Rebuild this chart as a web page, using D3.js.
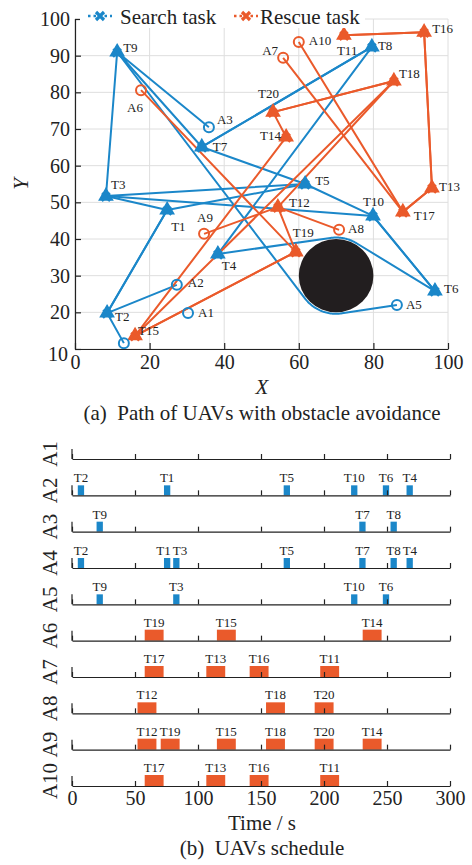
<!DOCTYPE html>
<html><head><meta charset="utf-8">
<script src="https://cdn.jsdelivr.net/npm/d3@7"></script>
<style>
body{margin:0;background:#fff}
svg{display:block;font-family:"Liberation Serif","Times New Roman",serif}
</style>
</head><body>
<svg id="c" width="472" height="865"></svg>
<script>
// ---------------- DATA ----------------
const uavNames = ["A1","A2","A3","A4","A5","A6","A7","A8","A9","A10"];
const uavX = [30.3, 27.3, 35.9, 13.1, 86.3, 17.7, 55.8, 70.8, 34.6, 60.0];
const uavY = [19.8, 27.5, 70.5, 11.6, 22.0, 80.6, 89.4, 42.5, 41.4, 93.7];
const uavType = ["search","search","search","search","search","rescue","rescue","rescue","rescue","rescue"];

const taskNames = ["T1","T2","T3","T4","T5","T6","T7","T8","T9","T10",
                   "T11","T12","T13","T14","T15","T16","T17","T18","T19","T20"];
const taskX = [24.7, 8.6, 8.3, 38.3, 61.7, 96.5, 34.0, 79.6, 11.3, 79.9,
               72.1, 54.4, 95.7, 56.6, 16.1, 93.6, 87.9, 85.5, 59.2, 53.1];
const taskY = [47.9, 19.8, 51.7, 35.9, 55.0, 25.8, 65.1, 92.4, 91.0, 46.3,
               95.6, 48.7, 53.9, 67.8, 13.6, 96.4, 47.4, 83.1, 36.5, 74.6];

const obstacleX = 70, obstacleY = 30, obstacleR = 10;
// segments flown around the obstacle: [uav, from, to, direction]
const detours = [["A2","T6","T4","ccw"], ["A5","A5","T9","cw"]];

// schedule: task order and start times (s) per UAV
const schedTasks = [
  [],
  ["T2","T1","T5","T10","T6","T4"],
  ["T9","T7","T8"],
  ["T2","T1","T3","T5","T7","T8","T4"],
  ["T9","T3","T10","T6"],
  ["T19","T15","T14"],
  ["T17","T13","T16","T11"],
  ["T12","T18","T20"],
  ["T12","T19","T15","T18","T20","T14"],
  ["T17","T13","T16","T11"]
];
const schedStart = [
  [],
  [4.6, 73, 168, 221.5, 246.7, 265.5],
  [19.5, 228, 252.8],
  [4.6, 73, 80.3, 168, 228, 252.8, 265.5],
  [19.5, 80.3, 221.5, 246.7],
  [57.7, 115, 230.7],
  [57.7, 106.6, 141, 197],
  [52, 154, 192.6],
  [52, 70.4, 115, 154, 192.6, 230.7],
  [57.7, 106.6, 141, 197]
];
const searchDuration = 5, rescueDuration = 15;

const xTicksA = [0,20,40,60,80,100];
const yTicksA = [10,20,30,40,50,60,70,80,90,100];
const tTicks = [0,50,100,150,200,250,300];
const legendLabels = ["Search task","Rescue task"];

// ---------------- LAYOUT ----------------
const blue = "#1b87c9", orange = "#ea5a2b";
const colorOf = t => t === "search" ? blue : orange;
const labelOffset = {
  T9:[6,0], A6:[-14,22], A3:[8,-3], T7:[11,4], T3:[5,-7], T1:[4,21], A9:[-7,-12],
  T4:[4,16], A2:[11,2], A1:[10,4], T2:[8,8], T15:[3,-1], T5:[10,1], T12:[11,0],
  T19:[-3,-15], A8:[9,3], T10:[-10,-10], T17:[11,8], T13:[7,3], T6:[9,2], A5:[9,4],
  T16:[8,1], T11:[-7,20], T8:[6,3], A10:[10,3], A7:[-21,-3], T18:[5,-3],
  T20:[-15,-14], T14:[-26,3]
};

const svg = d3.select("#c");
const x = d3.scaleLinear().domain([0,100]).range([75,448]);
const y = d3.scaleLinear().domain([10,100]).range([349,19]);

// grid
const g = svg.append("g");
g.selectAll(".gx").data(xTicksA).join("line")
  .attr("x1", d=>x(d)).attr("x2", d=>x(d)).attr("y1", y(10)).attr("y2", y(100))
  .attr("stroke","#dedede").attr("stroke-width",1);
g.selectAll(".gy").data(yTicksA).join("line")
  .attr("y1", d=>y(d)).attr("y2", d=>y(d)).attr("x1", x(0)).attr("x2", x(100))
  .attr("stroke","#dedede").attr("stroke-width",1);

// obstacle
g.append("ellipse").attr("cx", x(obstacleX)).attr("cy", y(obstacleY))
  .attr("rx", x(obstacleX+obstacleR)-x(obstacleX)).attr("ry", y(obstacleY)-y(obstacleY+obstacleR))
  .attr("fill","#221e1f");

// paths
const taskPos = {};
taskNames.forEach((n,i)=> taskPos[n] = [taskX[i], taskY[i]]);
const uavPos = {};
uavNames.forEach((n,i)=> uavPos[n] = [uavX[i], uavY[i]]);
const posOf = n => taskPos[n] || uavPos[n];

function detourPts(P, Q, dir) {
  const C = [obstacleX, obstacleY], R = obstacleR*1.04;
  const th = p => Math.atan2(p[1]-C[1], p[0]-C[0]);
  const dist = p => Math.hypot(p[0]-C[0], p[1]-C[1]);
  const aP = Math.acos(R/dist(P)), aQ = Math.acos(R/dist(Q));
  const phiP = th(P) + dir*aP, phiQ = th(Q) - dir*aQ;
  let sweep = (phiQ - phiP)*dir;
  while (sweep < 0) sweep += 2*Math.PI;
  while (sweep >= 2*Math.PI) sweep -= 2*Math.PI;
  const pts = [];
  const n = 40;
  for (let k=0;k<=n;k++){
    const a = phiP + dir*sweep*k/n;
    pts.push([C[0]+R*Math.cos(a), C[1]+R*Math.sin(a)]);
  }
  return pts;
}

const line = d3.line().x(d=>x(d[0])).y(d=>y(d[1]));
uavNames.forEach((u,i)=>{
  const seq = [u].concat(schedTasks[i]);
  if (seq.length < 2) return;
  let pts = [posOf(seq[0])];
  for (let k=1;k<seq.length;k++){
    const a = seq[k-1], b = seq[k];
    const dt = detours.find(d=>d[0]===u && d[1]===a && d[2]===b);
    if (dt) pts = pts.concat(detourPts(posOf(a), posOf(b), dt[3]==="ccw"?1:-1));
    pts.push(posOf(b));
  }
  g.append("path").attr("d", line(pts)).attr("fill","none")
    .attr("stroke", colorOf(uavType[i])).attr("stroke-width",2).attr("stroke-linejoin","round");
});

// task markers
const tri = d3.symbol().type(d3.symbolTriangle).size(75)();
taskNames.forEach((n,i)=>{
  const c = i < 10 ? blue : orange;
  const mg = g.append("g").attr("transform",`translate(${x(taskX[i])},${y(taskY[i])})`);
  mg.append("path").attr("d", tri).attr("fill", c).attr("stroke", c).attr("stroke-width",1.5);
  mg.append("path").attr("d","M-4,-3L4,5M-4,5L4,-3").attr("stroke",c).attr("stroke-width",2.2);
});
// uav markers
uavNames.forEach((n,i)=>{
  g.append("circle").attr("cx", x(uavX[i])).attr("cy", y(uavY[i])).attr("r",5)
    .attr("fill","none").attr("stroke", colorOf(uavType[i])).attr("stroke-width",2);
});
// labels
const lab = g.append("g").attr("font-size",13).attr("fill","#222");
Object.keys(labelOffset).forEach(n=>{
  const p = posOf(n), o = labelOffset[n];
  lab.append("text").attr("x", x(p[0])+o[0]).attr("y", y(p[1])+o[1]).text(n);
});

// axes
const ax = svg.append("g").attr("transform",`translate(${x(0)},0)`)
  .call(d3.axisLeft(y).tickValues(yTicksA).tickSizeInner(-6).tickSizeOuter(-6).tickPadding(5));
const bx = svg.append("g").attr("transform",`translate(0,${y(10)})`)
  .call(d3.axisBottom(x).tickValues(xTicksA).tickSizeInner(-6).tickSizeOuter(0).tickPadding(6));
[ax,bx].forEach(a=>{
  a.selectAll("path,line").attr("stroke","#222").attr("stroke-width",1.2);
  a.selectAll("text").attr("font-size",20).attr("fill","#222").attr("font-family","Liberation Serif");
});
ax.selectAll(".tick").filter(d=>d===10).select("text").attr("dy","0.55em").attr("x",-7);

// legend
const lg = svg.append("g");
lg.append("rect").attr("x",80).attr("y",2).attr("width",285).attr("height",26).attr("fill","#fff");
[[100, blue, legendLabels[0], 120],[246, orange, legendLabels[1], 260]].forEach(([mx,c,t,tx])=>{
  lg.append("line").attr("x1",mx-12).attr("x2",mx+12).attr("y1",16).attr("y2",16)
    .attr("stroke",c).attr("stroke-width",2.5).attr("stroke-dasharray","2.5,3");
  lg.append("path").attr("d",`M${mx-4},${12}L${mx+4},${20}M${mx-4},${20}L${mx+4},${12}`)
    .attr("stroke",c).attr("stroke-width",3.2);
  lg.append("text").attr("x",tx).attr("y",24).attr("font-size",21).attr("fill","#222").text(t);
});

// axis titles & caption (a)
svg.append("text").attr("x",262).attr("y",394).attr("text-anchor","middle")
  .attr("font-size",21).attr("font-style","italic").attr("fill","#222").text("X");
svg.append("text").attr("transform","translate(28,184) rotate(-90)").attr("text-anchor","middle")
  .attr("font-size",21).attr("font-style","italic").attr("fill","#222").text("Y");
svg.append("text").attr("x",262).attr("y",420).attr("text-anchor","middle")
  .attr("font-size",21).attr("fill","#222").attr("xml:space","preserve").text("(a)  Path of UAVs with obstacle avoidance");

// ---------------- SCHEDULE ----------------
const t = d3.scaleLinear().domain([0,300]).range([72,450]);
const row = d3.scalePoint().domain(uavNames).range([459,786]);
const sg = svg.append("g");
const labW = s => 13*(0.611 + 0.5*(s.length-1));
uavNames.forEach((u,i)=>{
  const yy = row(u);
  const c = colorOf(uavType[i]);
  const dur = uavType[i]==="search" ? searchDuration : rescueDuration;
  const h = uavType[i]==="search" ? 10 : 11;
  sg.selectAll(null).data(schedStart[i]).join("rect")
    .attr("x", d=>t(d)).attr("width", d=>t(d+dur)-t(d))
    .attr("y", yy-h).attr("height", h).attr("fill", c);
  // label centres, pushed apart when they would collide
  const cx = schedStart[i].map(s=>t(s+dur/2));
  for (let k=1;k<cx.length;k++){
    const need = (labW(schedTasks[i][k-1])+labW(schedTasks[i][k]))/2 + 2;
    const gap = cx[k]-cx[k-1];
    if (gap < need){ const d=(need-gap)/2; cx[k-1]-=d; cx[k]+=d; }
  }
  sg.selectAll(null).data(schedTasks[i]).join("text")
    .attr("x", (d,k)=>cx[k]).attr("y", yy-h-3)
    .attr("text-anchor","middle").attr("font-size",13).attr("fill","#222").text(d=>d);
  const a = sg.append("g").attr("transform",`translate(0,${yy})`)
    .call(d3.axisBottom(t).tickValues(tTicks).tickSizeInner(-5).tickSizeOuter(0).tickPadding(5));
  a.selectAll("path,line").attr("stroke","#222").attr("stroke-width",1.2);
  a.selectAll("text").attr("font-size",20).attr("fill","#222").attr("font-family","Liberation Serif");
  if (i < uavNames.length-1) a.selectAll("text").remove();
  sg.append("line").attr("x1",t(0)).attr("x2",t(0)).attr("y1",yy-10).attr("y2",yy)
    .attr("stroke","#222").attr("stroke-width",1.2);
  sg.append("text").attr("transform",`translate(57,${yy-5}) rotate(-90)`).attr("text-anchor","middle")
    .attr("font-size",21).attr("fill","#222").text(u);
});
svg.append("text").attr("x",262).attr("y",830).attr("text-anchor","middle")
  .attr("font-size",21).attr("fill","#222").text("Time / s");
svg.append("text").attr("x",262).attr("y",855).attr("text-anchor","middle")
  .attr("font-size",21).attr("fill","#222").attr("xml:space","preserve").text("(b)  UAVs schedule");
</script>
</body></html>
